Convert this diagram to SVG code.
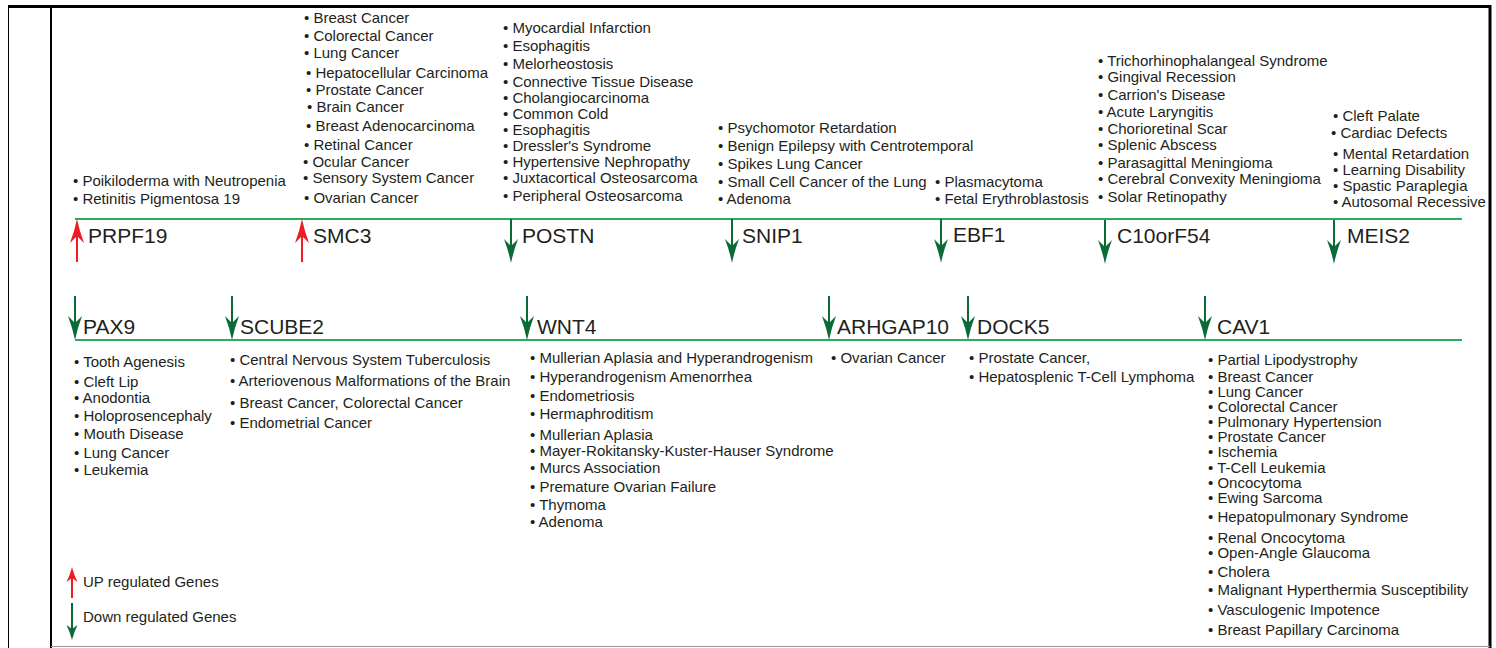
<svg xmlns="http://www.w3.org/2000/svg" xmlns:xlink="http://www.w3.org/1999/xlink" width="1496" height="648" viewBox="0 0 1496 648">
<style>
.d{font-family:"Liberation Sans",Arial,sans-serif;font-size:15px;fill:#231f20}
.g{font-family:"Liberation Sans",Arial,sans-serif;font-size:21px;fill:#231f20}
.tl{stroke:#2eaa5c;stroke-width:2;fill:none}
.dn{fill:#0b6b36}
.dns{stroke:#0b6b36;stroke-width:2}
.up{fill:#ee1c25}
.ups{stroke:#ee1c25;stroke-width:2}
</style>
<defs>
<g id="aDown"><line class="dns" x1="0" y1="-44" x2="0" y2="-16"/><path class="dn" d="M0,0 Q-2.5,-12 -7,-24 L0,-17 L7,-24 Q2.5,-12 0,0 Z"/></g>
<g id="aUp"><line class="ups" x1="0" y1="43" x2="0" y2="16"/><path class="up" d="M0,0 Q-2.5,12 -7,24 L0,17 L7,24 Q2.5,12 0,0 Z"/></g>
<g id="lDown"><line class="dns" x1="0" y1="-37" x2="0" y2="-10"/><path class="dn" d="M0,0 Q-2,-8 -5.5,-15 L0,-11 L5.5,-15 Q2,-8 0,0 Z"/></g>
<g id="lUp"><line class="ups" x1="0" y1="31" x2="0" y2="10"/><path class="up" d="M0,0 Q-2,8 -5.5,15 L0,11 L5.5,15 Q2,8 0,0 Z"/></g>
</defs>
<rect width="1496" height="648" fill="#fff"/>
<g id="frame">
<line x1="8.5" y1="6" x2="8.5" y2="648" stroke="#000" stroke-width="1"/>
<line x1="8" y1="6.5" x2="1491" y2="6.5" stroke="#000" stroke-width="3"/>
<line x1="1490" y1="5" x2="1490" y2="648" stroke="#000" stroke-width="3"/>
<line x1="51" y1="6" x2="51" y2="648" stroke="#000" stroke-width="2"/>
<line x1="51" y1="646.5" x2="1490" y2="646.5" stroke="#999" stroke-width="1"/>
</g>
<g id="connectors">
<line class="tl" x1="75" y1="219" x2="1462" y2="219"/>
<line class="tl" x1="75" y1="340" x2="1462" y2="340"/>
</g>
<g id="PRPF19">
<use xlink:href="#aUp" x="77" y="219"/>
<text class="g" x="88" y="243">PRPF19</text>
<text class="d" x="73" y="186">• Poikiloderma with Neutropenia</text>
<text class="d" x="73" y="204">• Retinitis Pigmentosa 19</text>
</g>
<g id="SMC3">
<use xlink:href="#aUp" x="302" y="219"/>
<text class="g" x="313" y="243">SMC3</text>
<text class="d" x="304" y="23">• Breast Cancer</text>
<text class="d" x="304" y="41">• Colorectal Cancer</text>
<text class="d" x="304" y="58">• Lung Cancer</text>
<text class="d" x="306" y="78">• Hepatocellular Carcinoma</text>
<text class="d" x="306" y="95">• Prostate Cancer</text>
<text class="d" x="307" y="112">• Brain Cancer</text>
<text class="d" x="306" y="131">• Breast Adenocarcinoma</text>
<text class="d" x="304" y="150">• Retinal Cancer</text>
<text class="d" x="303" y="167">• Ocular Cancer</text>
<text class="d" x="303" y="183">• Sensory System Cancer</text>
<text class="d" x="304" y="203">• Ovarian Cancer</text>
</g>
<g id="POSTN">
<use xlink:href="#aDown" x="511" y="263"/>
<text class="g" x="522" y="243">POSTN</text>
<text class="d" x="503" y="33">• Myocardial Infarction</text>
<text class="d" x="503" y="51">• Esophagitis</text>
<text class="d" x="503" y="69">• Melorheostosis</text>
<text class="d" x="503" y="87">• Connective Tissue Disease</text>
<text class="d" x="503" y="103">• Cholangiocarcinoma</text>
<text class="d" x="503" y="119">• Common Cold</text>
<text class="d" x="503" y="135">• Esophagitis</text>
<text class="d" x="503" y="151">• Dressler's Syndrome</text>
<text class="d" x="503" y="167">• Hypertensive Nephropathy</text>
<text class="d" x="503" y="183">• Juxtacortical Osteosarcoma</text>
<text class="d" x="503" y="201">• Peripheral Osteosarcoma</text>
</g>
<g id="SNIP1">
<use xlink:href="#aDown" x="732" y="263"/>
<text class="g" x="742" y="243">SNIP1</text>
<text class="d" x="718" y="133">• Psychomotor Retardation</text>
<text class="d" x="718" y="151">• Benign Epilepsy with Centrotemporal</text>
<text class="d" x="718" y="169">• Spikes Lung Cancer</text>
<text class="d" x="718" y="187">• Small Cell Cancer of the Lung</text>
<text class="d" x="718" y="204">• Adenoma</text>
</g>
<g id="EBF1">
<use xlink:href="#aDown" x="941" y="263"/>
<text class="g" x="953" y="242">EBF1</text>
<text class="d" x="935" y="187">• Plasmacytoma</text>
<text class="d" x="935" y="204">• Fetal Erythroblastosis</text>
</g>
<g id="C10orF54">
<use xlink:href="#aDown" x="1105" y="264"/>
<text class="g" x="1117" y="243">C10orF54</text>
<text class="d" x="1098" y="66">• Trichorhinophalangeal Syndrome</text>
<text class="d" x="1098" y="82">• Gingival Recession</text>
<text class="d" x="1098" y="100">• Carrion's Disease</text>
<text class="d" x="1098" y="117">• Acute Laryngitis</text>
<text class="d" x="1098" y="134">• Chorioretinal Scar</text>
<text class="d" x="1098" y="150">• Splenic Abscess</text>
<text class="d" x="1098" y="168">• Parasagittal Meningioma</text>
<text class="d" x="1098" y="184">• Cerebral Convexity Meningioma</text>
<text class="d" x="1098" y="202">• Solar Retinopathy</text>
</g>
<g id="MEIS2">
<use xlink:href="#aDown" x="1334" y="264"/>
<text class="g" x="1347" y="243">MEIS2</text>
<text class="d" x="1333" y="121">• Cleft Palate</text>
<text class="d" x="1331" y="138">• Cardiac Defects</text>
<text class="d" x="1333" y="159">• Mental Retardation</text>
<text class="d" x="1333" y="175">• Learning Disability</text>
<text class="d" x="1333" y="191">• Spastic Paraplegia</text>
<text class="d" x="1333" y="207">• Autosomal Recessive</text>
</g>
<g id="PAX9">
<use xlink:href="#aDown" x="75" y="340"/>
<text class="g" x="83" y="334">PAX9</text>
<text class="d" x="74" y="367">• Tooth Agenesis</text>
<text class="d" x="74" y="387">• Cleft Lip</text>
<text class="d" x="74" y="403">• Anodontia</text>
<text class="d" x="74" y="421">• Holoprosencephaly</text>
<text class="d" x="74" y="439">• Mouth Disease</text>
<text class="d" x="74" y="458">• Lung Cancer</text>
<text class="d" x="74" y="475">• Leukemia</text>
</g>
<g id="SCUBE2">
<use xlink:href="#aDown" x="232" y="340"/>
<text class="g" x="240" y="334">SCUBE2</text>
<text class="d" x="230" y="365">• Central Nervous System Tuberculosis</text>
<text class="d" x="230" y="386">• Arteriovenous Malformations of the Brain</text>
<text class="d" x="230" y="408">• Breast Cancer, Colorectal Cancer</text>
<text class="d" x="230" y="428">• Endometrial Cancer</text>
</g>
<g id="WNT4">
<use xlink:href="#aDown" x="527" y="340"/>
<text class="g" x="537" y="334">WNT4</text>
<text class="d" x="530" y="363">• Mullerian Aplasia and Hyperandrogenism</text>
<text class="d" x="530" y="382">• Hyperandrogenism Amenorrhea</text>
<text class="d" x="530" y="401">• Endometriosis</text>
<text class="d" x="530" y="419">• Hermaphroditism</text>
<text class="d" x="530" y="440">• Mullerian Aplasia</text>
<text class="d" x="530" y="456">• Mayer-Rokitansky-Kuster-Hauser Syndrome</text>
<text class="d" x="530" y="473">• Murcs Association</text>
<text class="d" x="530" y="492">• Premature Ovarian Failure</text>
<text class="d" x="530" y="510">• Thymoma</text>
<text class="d" x="530" y="527">• Adenoma</text>
</g>
<g id="ARHGAP10">
<use xlink:href="#aDown" x="829" y="340"/>
<text class="g" x="837" y="334">ARHGAP10</text>
<text class="d" x="831" y="363">• Ovarian Cancer</text>
</g>
<g id="DOCK5">
<use xlink:href="#aDown" x="968" y="340"/>
<text class="g" x="977" y="334">DOCK5</text>
<text class="d" x="969" y="363">• Prostate Cancer,</text>
<text class="d" x="969" y="382">• Hepatosplenic T-Cell Lymphoma</text>
</g>
<g id="CAV1">
<use xlink:href="#aDown" x="1205" y="340"/>
<text class="g" x="1217" y="334">CAV1</text>
<text class="d" x="1208" y="365">• Partial Lipodystrophy</text>
<text class="d" x="1208" y="382">• Breast Cancer</text>
<text class="d" x="1208" y="397">• Lung Cancer</text>
<text class="d" x="1208" y="412">• Colorectal Cancer</text>
<text class="d" x="1208" y="427">• Pulmonary Hypertension</text>
<text class="d" x="1208" y="442">• Prostate Cancer</text>
<text class="d" x="1208" y="457">• Ischemia</text>
<text class="d" x="1208" y="473">• T-Cell Leukemia</text>
<text class="d" x="1208" y="488">• Oncocytoma</text>
<text class="d" x="1208" y="503">• Ewing Sarcoma</text>
<text class="d" x="1208" y="522">• Hepatopulmonary Syndrome</text>
<text class="d" x="1208" y="543">• Renal Oncocytoma</text>
<text class="d" x="1208" y="558">• Open-Angle Glaucoma</text>
<text class="d" x="1208" y="577">• Cholera</text>
<text class="d" x="1208" y="595">• Malignant Hyperthermia Susceptibility</text>
<text class="d" x="1208" y="615">• Vasculogenic Impotence</text>
<text class="d" x="1208" y="635">• Breast Papillary Carcinoma</text>
</g>
<g id="legend">
<use xlink:href="#lUp" x="72" y="567"/>
<text class="d" x="83" y="587">UP regulated Genes</text>
<use xlink:href="#lDown" x="72" y="640"/>
<text class="d" x="83" y="622">Down regulated Genes</text>
</g>
</svg>
